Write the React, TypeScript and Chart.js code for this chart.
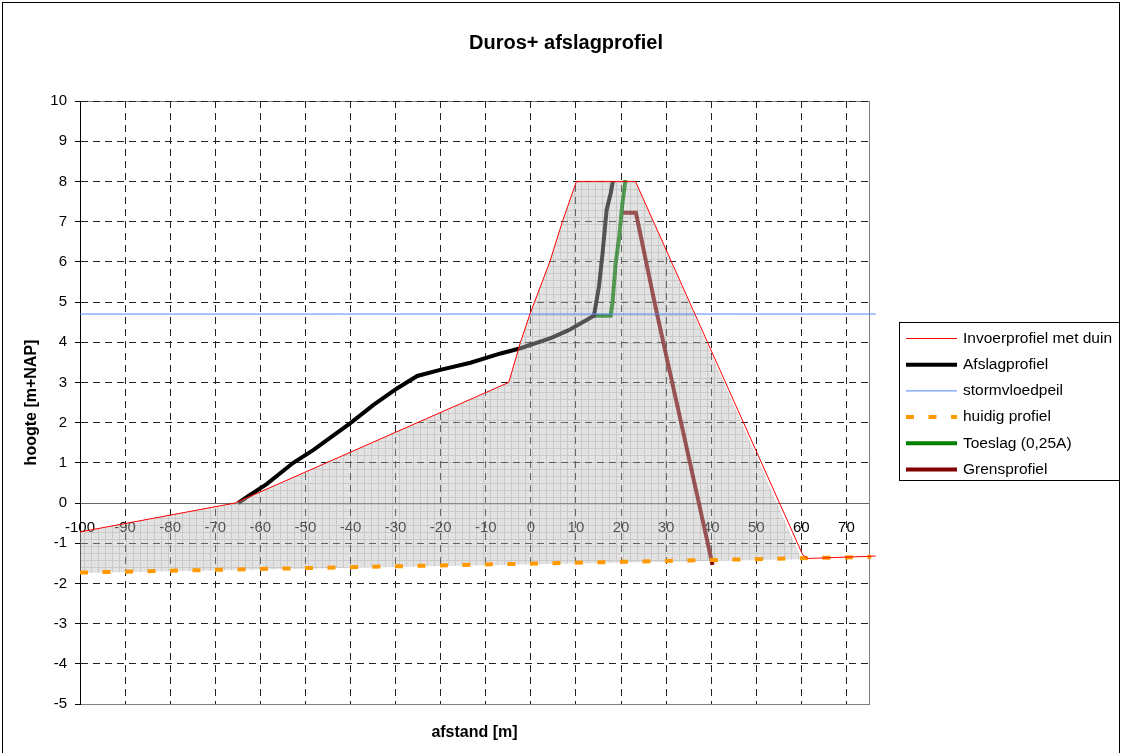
import React, { useEffect, useRef } from "react";
import { Chart, registerables } from "chart.js";

Chart.register(...registerables);

const FONT = '"Liberation Sans", Arial, sans-serif';
const CHART_TITLE = "Duros+ afslagprofiel";
const X_TITLE = "afstand [m]";
const Y_TITLE = "hoogte [m+NAP]";

const xTicks = [-100, -90, -80, -70, -60, -50, -40, -30, -20, -10, 0, 10, 20, 30, 40, 50, 60, 70];
const yTicks = [-5, -4, -3, -2, -1, 0, 1, 2, 3, 4, 5, 6, 7, 8, 9, 10];

// Invoerprofiel met duin
const invoerX = [-100, -65.6, -4.9, -2.3, -0.2, 4.2, 7.0, 10.1, 23.2, 60.3, 61.4, 76.5];
const invoerY = [-0.72, 0, 3.0, 4.0, 4.7, 6.0, 7.0, 8.0, 8.0, -1.29, -1.38, -1.32];

// Afslagprofiel
const afslagX = [-64.9, -62.3, -58.6, -52.7, -48.2, -46.0, -40.1, -34.9, -29.7, -25.2, -20.1, -13.4, -6.7, -2.3, 4.4, 8.4, 14.0, 15.1, 15.9, 16.8, 17.7, 18.2];
const afslagY = [0, 0.2, 0.47, 1.0, 1.32, 1.5, 1.98, 2.44, 2.85, 3.16, 3.31, 3.49, 3.72, 3.85, 4.1, 4.3, 4.66, 5.38, 6.21, 7.29, 7.7, 8.0];

// stormvloedpeil
const stormX = [-100, 76.5];
const stormY = [4.7, 4.7];

// huidig profiel
const huidigX = [-100, 75.5];
const huidigY = [-1.73, -1.34];

// Toeslag (0,25A)
const toeslagX = [14.0, 17.7, 18.1, 18.8, 19.6, 20.3, 21.0];
const toeslagY = [4.66, 4.66, 4.97, 5.96, 6.62, 7.45, 8.03];

// Grensprofiel
const grensX = [20.1, 23.3, 27.8, 40.3];
const grensY = [7.22, 7.22, 4.8, -1.54];

// shaded area: top boundary = invoerprofiel up to dune toe, bottom = huidig profiel
const areaTopX = [-100, -65.6, -4.9, -2.3, -0.2, 4.2, 7.0, 10.1, 23.2, 59.6];
const areaTopY = [-0.72, 0, 3.0, 4.0, 4.7, 6.0, 7.0, 8.0, 8.0, -1.28];
const areaBottomX = [59.6, -100];
const areaBottomY = [-1.40, -1.74];

const pts = (xs: number[], ys: number[]) => xs.map((x, i) => ({ x, y: ys[i] }));

function makePattern(): CanvasPattern | string {
  const c = document.createElement("canvas");
  c.width = 7;
  c.height = 7;
  const g = c.getContext("2d");
  if (!g) return "rgba(190,190,190,0.45)";
  const img = g.createImageData(7, 7);
  for (let yy = 0; yy < 7; yy++) {
    for (let xx = 0; xx < 7; xx++) {
      const i = (yy * 7 + xx) * 4;
      const line = xx === 0 || yy === 0;
      const dot = xx === 4 && yy === 4;
      const v = line ? 150 : dot ? 170 : 192;
      img.data[i] = v;
      img.data[i + 1] = v;
      img.data[i + 2] = v;
      img.data[i + 3] = line ? 130 : 112;
    }
  }
  g.putImageData(img, 0, 0);
  return g.createPattern(c, "repeat") || "rgba(190,190,190,0.45)";
}

const frame = {
  id: "frame",
  beforeDraw(chart: any) {
    const { ctx, chartArea: a } = chart;
    ctx.save();
    ctx.strokeStyle = "#000";
    ctx.lineWidth = 1;
    ctx.strokeRect(2.5, 2.5, 1117, 800);
    ctx.strokeStyle = "#808080";
    ctx.strokeRect(Math.round(a.left) + 0.5, Math.round(a.top) + 0.5, Math.round(a.right - a.left), Math.round(a.bottom - a.top));
    ctx.fillStyle = "#000";
    ctx.font = `bold 20px ${FONT}`;
    ctx.textAlign = "center";
    ctx.textBaseline = "middle";
    ctx.fillText(CHART_TITLE, 566, 43);
    ctx.restore();
  },
  beforeDatasetsDraw(chart: any) {
    const { ctx, scales } = chart;
    const xs = scales.x;
    const ys = scales.y;
    ctx.save();
    ctx.font = `15px ${FONT}`;
    ctx.fillStyle = "#000";
    ctx.textAlign = "center";
    ctx.textBaseline = "middle";
    const py = ys.getPixelForValue(0) + 25;
    xTicks.forEach((v) => ctx.fillText(String(v), xs.getPixelForValue(v), py));
    ctx.restore();
  },
  afterDraw(chart: any) {
    const { ctx } = chart;
    const items = chart.data.datasets.filter((d: any) => d.label);
    ctx.save();
    ctx.strokeStyle = "#000";
    ctx.lineWidth = 1;
    ctx.strokeRect(899.5, 322.5, 220, 158);
    ctx.font = `15.5px ${FONT}`;
    ctx.textBaseline = "middle";
    ctx.textAlign = "left";
    items.forEach((d: any, i: number) => {
      const cy = 338.5 + i * 26.2;
      ctx.save();
      ctx.strokeStyle = d.borderColor;
      ctx.lineWidth = d.borderWidth;
      ctx.setLineDash(d.borderDash || []);
      ctx.beginPath();
      ctx.moveTo(906, cy);
      ctx.lineTo(957, cy);
      ctx.stroke();
      ctx.restore();
      ctx.fillStyle = "#000";
      ctx.fillText(d.label, 963, cy);
    });
    ctx.restore();
  },
};

export default function App() {
  const ref = useRef<HTMLCanvasElement | null>(null);
  useEffect(() => {
    document.body.style.margin = "0";
    const canvas = ref.current;
    if (!canvas) return;
    const pattern = makePattern();
    const dash = [7, 5];
    const chart = new Chart(canvas, {
      type: "line",
      data: {
        datasets: [
          { label: "Invoerprofiel met duin", data: pts(invoerX, invoerY), borderColor: "#FF0000", borderWidth: 1, order: 0, clip: false } as any,
          { label: "Afslagprofiel", data: pts(afslagX, afslagY), borderColor: "#000000", borderWidth: 4, order: 10 },
          { label: "stormvloedpeil", data: pts(stormX, stormY), borderColor: "#4F86F7", borderWidth: 1, order: 2, clip: false } as any,
          { label: "huidig profiel", data: pts(huidigX, huidigY), borderColor: "#FF9900", borderWidth: 4, borderDash: [8, 14.5], order: 3, clip: false } as any,
          { label: "Toeslag (0,25A)", data: pts(toeslagX, toeslagY), borderColor: "#008000", borderWidth: 4, order: 10 },
          { label: "Grensprofiel", data: pts(grensX, grensY), borderColor: "#800000", borderWidth: 4, order: 10 },
          {
            label: "",
            data: pts(areaTopX.concat(areaBottomX), areaTopY.concat(areaBottomY)),
            borderWidth: 0,
            borderColor: "rgba(0,0,0,0)",
            backgroundColor: pattern,
            fill: "shape",
            order: 5,
          } as any,
        ],
      },
      options: {
        responsive: false,
        animation: false,
        devicePixelRatio: 1,
        elements: { point: { radius: 0, hoverRadius: 0 }, line: { tension: 0 } },
        layout: { padding: { left: 11, right: 253, top: 101, bottom: 0 } },
        plugins: {
          legend: { display: false },
          tooltip: { enabled: false },
          title: { display: false },
        },
        scales: {
          x: {
            type: "linear",
            min: -100,
            max: 75,
            afterBuildTicks: (s: any) => {
              s.ticks = xTicks.map((v) => ({ value: v }));
            },
            afterFit: (s: any) => {
              s.height = 49;
            },
            ticks: { display: false },
            grid: {
              color: (c: any) => (c.tick && c.tick.value === -100 ? "rgba(0,0,0,0)" : "#222"),
              lineWidth: 1,
              drawTicks: false,
            },
            border: { display: true, color: "#808080", dash: (c: any) => (c.tick ? dash : []) },
            title: { display: true, text: X_TITLE, color: "#000", font: { family: FONT, size: 16, weight: "bold" }, padding: { top: 0, bottom: 10.4 } },
          },
          y: {
            type: "linear",
            min: -5,
            max: 10,
            afterBuildTicks: (s: any) => {
              s.ticks = yTicks.map((v) => ({ value: v }));
            },
            afterFit: (s: any) => {
              s.width = 69;
            },
            ticks: { color: "#000", font: { family: FONT, size: 15 }, padding: 8 },
            grid: {
              color: (c: any) => {
                if (!c.tick) return "#222";
                if (c.tick.value === 0) return "#666";
                if (c.tick.value === -5) return "#808080";
                return "#222";
              },
              lineWidth: 1,
              drawTicks: true,
              tickLength: 5,
              tickColor: "#000",
              tickBorderDash: [],
            },
            border: {
              display: true,
              color: "#000",
              dash: (c: any) => (c.tick && c.tick.value !== 0 && c.tick.value !== -5 ? dash : []),
            },
            title: { display: true, text: Y_TITLE, color: "#000", font: { family: FONT, size: 16, weight: "bold" }, padding: { top: 11.4, bottom: 0 } },
          },
        },
      } as any,
      plugins: [frame],
    });
    return () => chart.destroy();
  }, []);
  return <canvas ref={ref} width={1122} height={753} style={{ display: "block" }} />;
}
